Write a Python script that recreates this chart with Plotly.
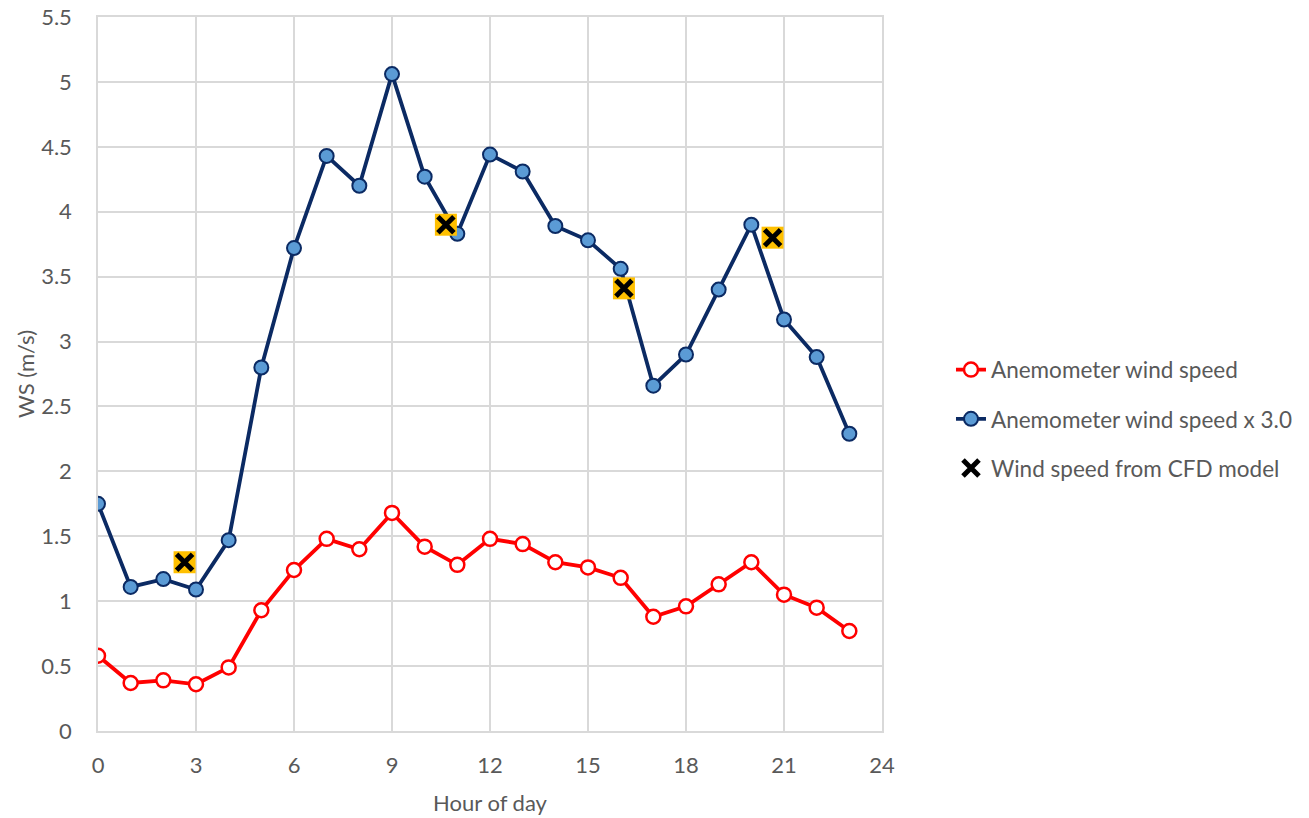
import plotly.graph_objects as go

hours = list(range(24))
anemometer = [0.58, 0.37, 0.39, 0.36, 0.49, 0.93, 1.24, 1.48, 1.40, 1.68, 1.42, 1.28,
              1.48, 1.44, 1.30, 1.26, 1.18, 0.88, 0.96, 1.13, 1.30, 1.05, 0.95, 0.77]
anemometer_x3 = [1.75, 1.11, 1.17, 1.09, 1.47, 2.80, 3.72, 4.43, 4.20, 5.06, 4.27, 3.83,
                 4.44, 4.31, 3.89, 3.78, 3.56, 2.66, 2.90, 3.40, 3.90, 3.17, 2.88, 2.29]
cfd_hours = [2.65, 10.65, 16.1, 20.65]
cfd_ws = [1.30, 3.90, 3.41, 3.80]

x_ticks = [0, 3, 6, 9, 12, 15, 18, 21, 24]
y_ticks = [0, 0.5, 1, 1.5, 2, 2.5, 3, 3.5, 4, 4.5, 5, 5.5]

FONT = "Lato"
GREY = "#595959"
GRID = "#D9D9D9"

fig = go.Figure()
fig.add_trace(go.Scatter(
    x=hours, y=anemometer, mode="lines+markers", name="Anemometer wind speed",
    line=dict(color="#FF0000", width=3.8),
    marker=dict(symbol="circle", size=14, color="white", line=dict(color="#FF0000", width=2.5)),
    legendgroup="a",
))
fig.add_trace(go.Scatter(
    x=hours, y=anemometer_x3, mode="lines+markers", name="Anemometer wind speed x 3.0",
    line=dict(color="#0B2A63", width=3.8),
    marker=dict(symbol="circle", size=14, color="#5B9BD5", line=dict(color="#0B2A63", width=2)),
    legendgroup="b",
))
fig.add_trace(go.Scatter(
    x=cfd_hours, y=cfd_ws, mode="markers", name="Wind speed from CFD model",
    marker=dict(symbol="square", size=22, color="#FFC000", line=dict(width=0)),
    showlegend=False, legendgroup="c",
))
fig.add_trace(go.Scatter(
    x=cfd_hours, y=cfd_ws, mode="markers", name="Wind speed from CFD model",
    marker=dict(symbol="x-thin", size=16, color="black", line=dict(color="black", width=5)),
    legendgroup="c",
))

fig.update_layout(
    width=1309, height=818,
    margin=dict(l=98, r=427, t=17, b=87, autoexpand=False),
    paper_bgcolor="white", plot_bgcolor="white",
    font=dict(family=FONT, size=22, color=GREY),
    showlegend=True,
    legend=dict(x=1.088, y=0.437, xanchor="left", yanchor="middle",
                font=dict(family=FONT, size=22.5, color=GREY),
                traceorder="grouped", tracegroupgap=17,
                bgcolor="rgba(0,0,0,0)"),
)
fig.update_xaxes(
    range=[0, 24], tickvals=x_ticks, ticktext=[str(v) for v in x_ticks],
    showgrid=True, gridcolor=GRID, gridwidth=1.5,
    showline=True, linecolor=GRID, linewidth=1.5, mirror=True,
    zeroline=False, ticks="", ticklabelstandoff=14, automargin=False,
    title=dict(text="Hour of day", font=dict(family=FONT, size=22, color=GREY), standoff=18),
    tickfont=dict(family=FONT, size=22, color=GREY),
)
fig.update_yaxes(
    range=[0, 5.5], tickvals=y_ticks, ticktext=[("%g" % v) for v in y_ticks],
    showgrid=True, gridcolor=GRID, gridwidth=1.5,
    showline=True, linecolor=GRID, linewidth=1.5, mirror=True,
    zeroline=False, ticks="", ticklabelstandoff=20, automargin=False,
    title=dict(text="WS (m/s)", font=dict(family=FONT, size=22, color=GREY), standoff=0),
    tickfont=dict(family=FONT, size=22, color=GREY),
)

fig.write_html("out.html")
